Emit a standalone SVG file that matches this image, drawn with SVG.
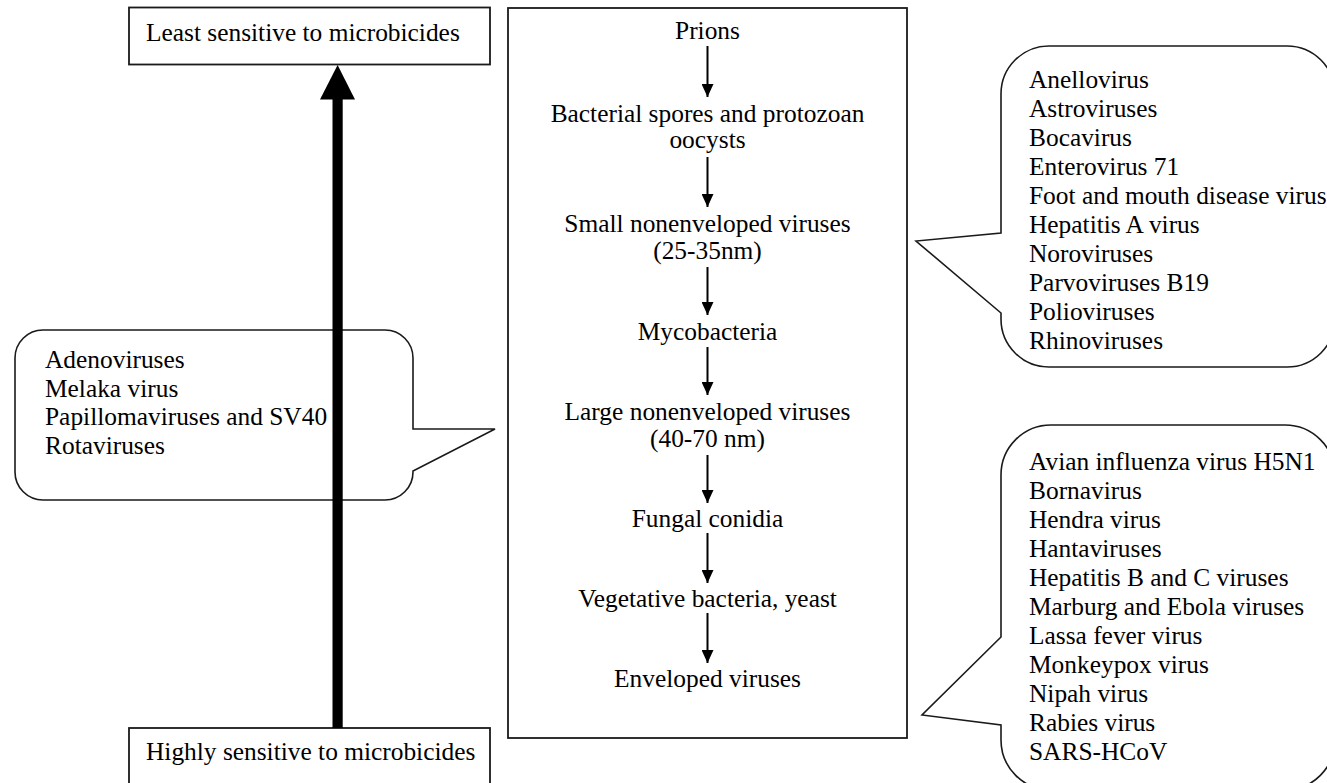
<svg xmlns="http://www.w3.org/2000/svg" width="1327" height="783" viewBox="0 0 1327 783">
  <defs>
    <marker id="ah" viewBox="0 0 13 12" refX="13" refY="6" markerWidth="13" markerHeight="12" markerUnits="userSpaceOnUse" orient="auto">
      <path d="M0,0 L13,6 L0,12 Z" fill="#000"/>
    </marker>
  </defs>
  <style>
    text { font-family: "Liberation Serif", "Times New Roman", serif; font-size: 25.4px; fill: #000; }
    .c { text-anchor: middle; }
    .box { fill: #fff; stroke: #1a1a1a; stroke-width: 1.8; }
    .callout { fill: #fff; stroke: #1a1a1a; stroke-width: 1.6; }
    .flow { stroke: #000; stroke-width: 2; fill: none; }
  </style>
  <rect width="1327" height="783" fill="#fff"/>

  <g id="least-box">
    <rect class="box" x="129" y="7.5" width="361" height="57"/>
    <text x="146" y="41">Least sensitive to microbicides</text>
  </g>

  <g id="high-box">
    <rect class="box" x="129" y="728" width="361" height="80"/>
    <text x="146" y="760">Highly sensitive to microbicides</text>
  </g>

  <g id="left-callout">
    <path class="callout" d="M43,330 H385 A28,28 0 0 1 413,358 V429 L495,429 L413,471 V472 A28,28 0 0 1 385,500 H43 A28,28 0 0 1 15,472 V358 A28,28 0 0 1 43,330 Z"/>
    <text x="45" y="368">Adenoviruses</text>
    <text x="45" y="396.7">Melaka virus</text>
    <text x="45" y="425.4">Papillomaviruses and SV40</text>
    <text x="45" y="454">Rotaviruses</text>
  </g>

  <g id="upper-right-callout">
    <path class="callout" d="M1049,46 H1287 A48,48 0 0 1 1335,94 V319 A48,48 0 0 1 1287,367 H1049 A48,48 0 0 1 1001,319 V313 L916,241 L1001,233 V94 A48,48 0 0 1 1049,46 Z"/>
    <text x="1029" y="88">Anellovirus</text>
    <text x="1029" y="117">Astroviruses</text>
    <text x="1029" y="146">Bocavirus</text>
    <text x="1029" y="175">Enterovirus 71</text>
    <text x="1029" y="204">Foot and mouth disease virus</text>
    <text x="1029" y="233">Hepatitis A virus</text>
    <text x="1029" y="262">Noroviruses</text>
    <text x="1029" y="291">Parvoviruses B19</text>
    <text x="1029" y="320">Polioviruses</text>
    <text x="1029" y="349">Rhinoviruses</text>
  </g>

  <g id="lower-right-callout">
    <path class="callout" d="M1051,425 H1285 A50,50 0 0 1 1335,475 V740 A50,50 0 0 1 1285,790 H1051 A50,50 0 0 1 1001,740 V725 L922,715 L1001,637 V475 A50,50 0 0 1 1051,425 Z"/>
    <text x="1029" y="470">Avian influenza virus H5N1</text>
    <text x="1029" y="499">Bornavirus</text>
    <text x="1029" y="528">Hendra virus</text>
    <text x="1029" y="557">Hantaviruses</text>
    <text x="1029" y="586">Hepatitis B and C viruses</text>
    <text x="1029" y="615">Marburg and Ebola viruses</text>
    <text x="1029" y="644">Lassa fever virus</text>
    <text x="1029" y="673">Monkeypox virus</text>
    <text x="1029" y="702">Nipah virus</text>
    <text x="1029" y="731">Rabies virus</text>
    <text x="1029" y="760">SARS-HCoV</text>
  </g>

  <g id="center-box">
    <rect class="box" x="508" y="8" width="399" height="730"/>
  </g>

  <g id="center-items">
    <g id="prions"><text class="c" x="707.5" y="39">Prions</text></g>
    <g id="spores"><text class="c" x="707.5" y="122">Bacterial spores and protozoan</text><text class="c" x="707.5" y="148">oocysts</text></g>
    <g id="small-nonenveloped"><text class="c" x="707.5" y="232">Small nonenveloped viruses</text><text class="c" x="707.5" y="259">(25-35nm)</text></g>
    <g id="mycobacteria"><text class="c" x="707.5" y="340">Mycobacteria</text></g>
    <g id="large-nonenveloped"><text class="c" x="707.5" y="420">Large nonenveloped viruses</text><text class="c" x="707.5" y="447">(40-70 nm)</text></g>
    <g id="fungal"><text class="c" x="707.5" y="527">Fungal conidia</text></g>
    <g id="vegetative"><text class="c" x="707.5" y="607">Vegetative bacteria, yeast</text></g>
    <g id="enveloped"><text class="c" x="707.5" y="687">Enveloped viruses</text></g>
  </g>

  <g id="connectors">
    <g id="sensitivity-arrow">
      <rect x="332.5" y="98" width="10.2" height="630" fill="#000"/>
      <path d="M320,99.5 L355,99.5 L337.6,65 Z" fill="#000"/>
    </g>
    <line class="flow" x1="707.5" y1="46" x2="707.5" y2="97" marker-end="url(#ah)"/>
    <line class="flow" x1="707.5" y1="157" x2="707.5" y2="207" marker-end="url(#ah)"/>
    <line class="flow" x1="707.5" y1="267" x2="707.5" y2="315" marker-end="url(#ah)"/>
    <line class="flow" x1="707.5" y1="347" x2="707.5" y2="395" marker-end="url(#ah)"/>
    <line class="flow" x1="707.5" y1="455" x2="707.5" y2="503" marker-end="url(#ah)"/>
    <line class="flow" x1="707.5" y1="533" x2="707.5" y2="583" marker-end="url(#ah)"/>
    <line class="flow" x1="707.5" y1="613" x2="707.5" y2="663" marker-end="url(#ah)"/>
  </g>
</svg>
